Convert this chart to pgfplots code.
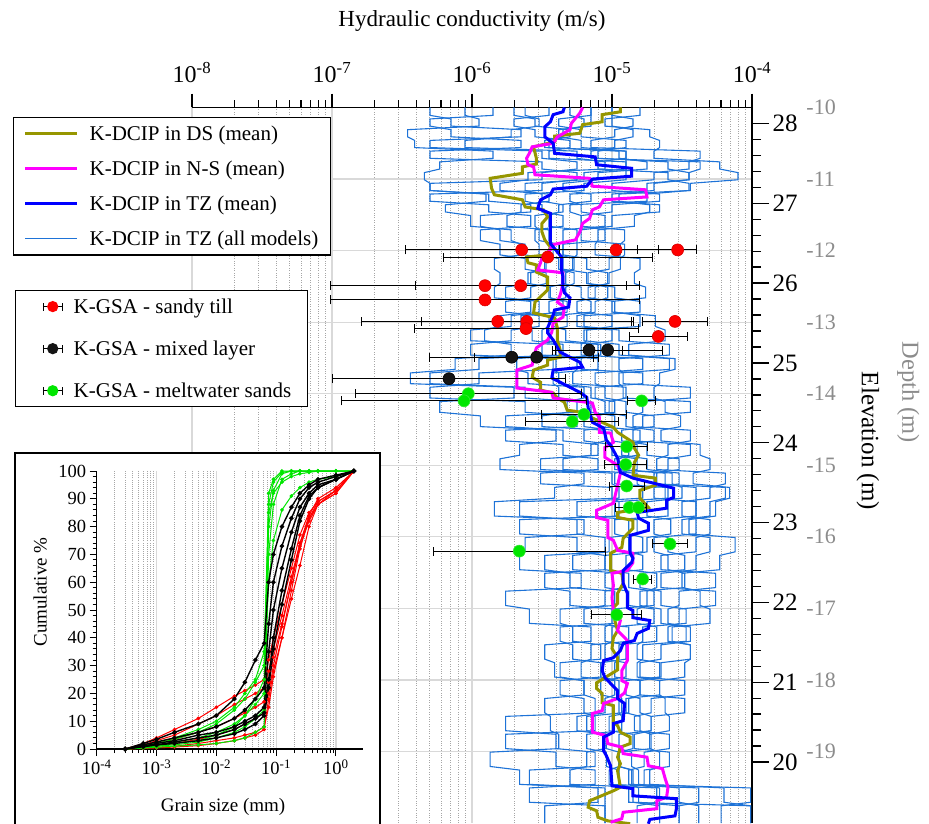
\documentclass[border=0pt]{standalone}
\usepackage{pgfplots}
\pgfplotsset{compat=1.18}
\usepackage{pgfplotstable}
\usepackage{fontspec}
\setmainfont{Liberation Serif}
\newcommand{\fsz}[1]{\fontsize{#1}{#1}\selectfont}
\definecolor{dsolive}{RGB}{150,150,0}
\definecolor{nsmag}{RGB}{255,0,255}
\definecolor{tzblue}{RGB}{0,0,255}
\definecolor{modblue}{RGB}{30,115,215}
\definecolor{gsared}{RGB}{255,0,0}
\definecolor{gsagreen}{RGB}{0,230,0}
\definecolor{gsablack}{RGB}{20,20,20}
\definecolor{depthgray}{RGB}{140,140,140}

% log10 K (m/s) of the TZ models, layer by layer (two rows per layer)
\pgfplotstableread{
d c1 c2 c3 c4 c5 c6 c7 c8 c9 c10 c11 c12
-10.00 -6.05 -5.85 -5.62 -5.45 -5.30 -5.15 -5.00 -4.80 -6.30 -5.70 -5.15 -5.00
-10.11 -6.05 -5.85 -5.62 -5.45 -5.30 -5.15 -5.00 -4.80 -6.30 -5.70 -5.15 -5.00
-10.16 -5.95 -6.30 -5.52 -5.70 -5.20 -5.38 -4.85 -5.05 -6.15 -5.55 -5.15 -5.00
-10.26 -5.95 -6.30 -5.52 -5.70 -5.20 -5.38 -4.85 -5.05 -6.15 -5.55 -5.15 -5.00
-10.31 -6.46 -6.15 -5.72 -5.55 -5.35 -5.22 -4.98 -4.73 -5.65 -5.30 -5.38 -4.85
-10.41 -6.46 -6.15 -5.72 -5.55 -5.35 -5.22 -4.98 -4.73 -5.65 -5.30 -5.38 -4.85
-10.46 -6.41 -5.65 -6.05 -5.30 -5.48 -4.90 -5.15 -4.66 -6.30 -5.45 -5.22 -4.98
-10.56 -6.41 -5.65 -6.05 -5.30 -5.48 -4.90 -5.15 -4.66 -6.30 -5.45 -5.22 -4.98
-10.61 -5.85 -6.30 -5.25 -5.45 -4.95 -5.10 -4.37 -4.70 -5.50 -4.90 -4.90 -5.15
-10.71 -5.85 -6.30 -5.25 -5.45 -4.95 -5.10 -4.37 -4.70 -5.50 -4.90 -4.90 -5.15
-10.76 -6.23 -5.50 -5.05 -4.90 -4.75 -4.60 -4.45 -4.23 -5.25 -4.90 -5.10 -4.37
-10.86 -6.23 -5.50 -5.05 -4.90 -4.75 -4.60 -4.45 -4.23 -5.25 -4.90 -5.10 -4.37
-10.91 -6.34 -5.25 -5.60 -4.90 -5.10 -4.45 -4.70 -4.10 -5.50 -5.20 -4.60 -4.45
-11.01 -6.34 -5.25 -5.60 -4.90 -5.10 -4.45 -4.70 -4.10 -5.50 -5.20 -4.60 -4.45
-11.06 -6.30 -5.50 -5.80 -5.20 -5.35 -4.75 -5.00 -4.44 -6.30 -5.62 -4.45 -4.70
-11.16 -6.30 -5.50 -5.80 -5.20 -5.35 -4.75 -5.00 -4.44 -6.30 -5.62 -4.45 -4.70
-11.21 -5.90 -6.30 -5.45 -5.62 -5.15 -5.30 -4.66 -4.95 -5.88 -5.50 -4.75 -5.00
-11.31 -5.90 -6.30 -5.45 -5.62 -5.15 -5.30 -4.66 -4.95 -5.88 -5.50 -4.75 -5.00
-11.36 -6.19 -5.88 -5.65 -5.50 -5.38 -5.22 -5.00 -4.73 -5.58 -5.35 -5.30 -4.66
-11.46 -6.19 -5.88 -5.65 -5.50 -5.38 -5.22 -5.00 -4.73 -5.58 -5.35 -5.30 -4.66
-11.51 -6.01 -5.58 -5.75 -5.35 -5.45 -5.05 -5.22 -4.84 -5.94 -5.55 -5.22 -5.00
-11.66 -6.01 -5.58 -5.75 -5.35 -5.45 -5.05 -5.22 -4.84 -5.94 -5.55 -5.22 -5.00
-11.71 -5.72 -5.94 -5.45 -5.55 -5.25 -5.35 -4.91 -5.10 -5.80 -5.52 -5.05 -5.22
-11.86 -5.72 -5.94 -5.45 -5.55 -5.25 -5.35 -4.91 -5.10 -5.80 -5.52 -5.05 -5.22
-11.91 -5.65 -5.80 -5.42 -5.52 -5.25 -5.35 -4.94 -5.12 -5.62 -5.38 -5.35 -4.91
-12.06 -5.65 -5.80 -5.42 -5.52 -5.25 -5.35 -4.94 -5.12 -5.62 -5.38 -5.35 -4.91
-12.11 -5.84 -5.62 -5.48 -5.38 -5.28 -5.18 -5.02 -4.80 -5.47 -5.27 -5.35 -4.94
-12.26 -5.84 -5.62 -5.48 -5.38 -5.28 -5.18 -5.02 -4.80 -5.47 -5.27 -5.35 -4.94
-12.31 -5.80 -5.47 -5.60 -5.27 -5.36 -5.03 -5.17 -4.84 -5.58 -5.33 -5.18 -5.02
-12.46 -5.80 -5.47 -5.60 -5.27 -5.36 -5.03 -5.17 -4.84 -5.58 -5.33 -5.18 -5.02
-12.51 -5.84 -5.58 -5.44 -5.33 -5.22 -5.12 -4.98 -4.76 -5.76 -5.45 -5.03 -5.17
-12.66 -5.84 -5.58 -5.44 -5.33 -5.22 -5.12 -4.98 -4.76 -5.76 -5.45 -5.03 -5.17
-12.71 -5.58 -5.76 -5.35 -5.45 -5.15 -5.25 -4.80 -5.00 -5.52 -5.32 -5.12 -4.98
-12.86 -5.58 -5.76 -5.35 -5.45 -5.15 -5.25 -4.80 -5.00 -5.52 -5.32 -5.12 -4.98
-12.91 -5.80 -5.52 -5.65 -5.32 -5.42 -5.00 -5.20 -4.69 -5.72 -5.45 -5.25 -4.80
-13.06 -5.80 -5.52 -5.65 -5.32 -5.42 -5.00 -5.20 -4.69 -5.72 -5.45 -5.25 -4.80
-13.11 -5.91 -5.72 -5.57 -5.45 -5.33 -5.18 -4.95 -4.62 -6.01 -5.50 -5.00 -5.20
-13.26 -5.91 -5.72 -5.57 -5.45 -5.33 -5.18 -4.95 -4.62 -6.01 -5.50 -5.00 -5.20
-13.31 -5.72 -6.01 -5.35 -5.50 -5.08 -5.22 -4.59 -4.88 -5.40 -5.10 -5.18 -4.95
-13.46 -5.72 -6.01 -5.35 -5.50 -5.08 -5.22 -4.59 -4.88 -5.40 -5.10 -5.18 -4.95
-13.51 -6.12 -5.40 -5.68 -5.10 -5.25 -4.78 -4.95 -4.55 -5.95 -5.42 -5.22 -4.59
-13.66 -6.12 -5.40 -5.68 -5.10 -5.25 -4.78 -4.95 -4.55 -5.95 -5.42 -5.22 -4.59
-13.71 -6.44 -5.95 -5.60 -5.42 -5.28 -5.12 -4.92 -4.66 -6.30 -5.38 -4.78 -4.95
-13.86 -6.44 -5.95 -5.60 -5.42 -5.28 -5.12 -4.92 -4.66 -6.30 -5.38 -4.78 -4.95
-13.91 -5.70 -6.30 -5.20 -5.38 -4.90 -5.05 -4.44 -4.70 -5.62 -5.15 -5.12 -4.92
-14.06 -5.70 -6.30 -5.20 -5.38 -4.90 -5.05 -4.44 -4.70 -5.62 -5.15 -5.12 -4.92
-14.11 -6.23 -5.62 -5.32 -5.15 -5.02 -4.90 -4.78 -4.62 -5.25 -4.98 -5.05 -4.44
-14.26 -6.23 -5.62 -5.32 -5.15 -5.02 -4.90 -4.78 -4.62 -5.25 -4.98 -5.05 -4.44
-14.31 -5.94 -5.25 -5.50 -4.98 -5.10 -4.70 -4.85 -4.51 -5.76 -5.20 -4.90 -4.78
-14.46 -5.94 -5.25 -5.50 -4.98 -5.10 -4.70 -4.85 -4.51 -5.76 -5.20 -4.90 -4.78
-14.51 -5.40 -5.76 -5.05 -5.20 -4.80 -4.93 -4.44 -4.65 -5.35 -5.00 -4.70 -4.85
-14.66 -5.40 -5.76 -5.05 -5.20 -4.80 -4.93 -4.44 -4.65 -5.35 -5.00 -4.70 -4.85
-14.71 -5.66 -5.35 -5.15 -5.00 -4.88 -4.75 -4.60 -4.37 -5.10 -4.82 -4.93 -4.44
-14.86 -5.66 -5.35 -5.15 -5.00 -4.88 -4.75 -4.60 -4.37 -5.10 -4.82 -4.93 -4.44
-14.91 -5.80 -5.10 -5.35 -4.82 -4.95 -4.52 -4.68 -4.30 -5.51 -4.98 -4.75 -4.60
-15.06 -5.80 -5.10 -5.35 -4.82 -4.95 -4.52 -4.68 -4.30 -5.51 -4.98 -4.75 -4.60
-15.11 -5.20 -5.51 -4.82 -4.98 -4.57 -4.70 -4.19 -4.42 -5.00 -4.62 -4.52 -4.68
-15.26 -5.20 -5.51 -4.82 -4.98 -4.57 -4.70 -4.19 -4.42 -5.00 -4.62 -4.52 -4.68
-15.31 -5.41 -5.00 -4.78 -4.62 -4.50 -4.40 -4.30 -4.16 -4.95 -4.60 -4.70 -4.19
-15.46 -5.41 -5.00 -4.78 -4.62 -4.50 -4.40 -4.30 -4.16 -4.95 -4.60 -4.70 -4.19
-15.51 -5.84 -4.95 -5.25 -4.60 -4.75 -4.40 -4.50 -4.26 -5.66 -4.98 -4.40 -4.30
-15.71 -5.84 -4.95 -5.25 -4.60 -4.75 -4.40 -4.50 -4.26 -5.66 -4.98 -4.40 -4.30
-15.76 -5.20 -5.66 -4.82 -4.98 -4.58 -4.70 -4.30 -4.45 -5.25 -4.88 -4.40 -4.50
-15.96 -5.20 -5.66 -4.82 -4.98 -4.58 -4.70 -4.30 -4.45 -5.25 -4.88 -4.40 -4.50
-16.01 -5.62 -5.25 -5.02 -4.88 -4.75 -4.60 -4.40 -4.12 -5.05 -4.78 -4.70 -4.30
-16.21 -5.62 -5.25 -5.02 -4.88 -4.75 -4.60 -4.40 -4.12 -5.05 -4.78 -4.70 -4.30
-16.26 -5.66 -5.05 -5.28 -4.78 -4.90 -4.48 -4.65 -4.23 -5.48 -5.05 -4.60 -4.40
-16.46 -5.66 -5.05 -5.28 -4.78 -4.90 -4.48 -4.65 -4.23 -5.48 -5.05 -4.60 -4.40
-16.51 -5.22 -5.48 -4.92 -5.05 -4.68 -4.80 -4.26 -4.50 -5.30 -4.88 -4.48 -4.65
-16.71 -5.22 -5.48 -4.92 -5.05 -4.68 -4.80 -4.26 -4.50 -5.30 -4.88 -4.48 -4.65
-16.76 -5.76 -5.30 -5.05 -4.88 -4.75 -4.65 -4.52 -4.37 -4.98 -4.70 -4.80 -4.26
-16.96 -5.76 -5.30 -5.05 -4.88 -4.75 -4.65 -4.52 -4.37 -4.98 -4.70 -4.80 -4.26
-17.01 -5.59 -4.98 -5.20 -4.70 -4.82 -4.47 -4.60 -4.30 -5.37 -5.00 -4.65 -4.52
-17.21 -5.59 -4.98 -5.20 -4.70 -4.82 -4.47 -4.60 -4.30 -5.37 -5.00 -4.65 -4.52
-17.26 -5.15 -5.37 -4.88 -5.00 -4.68 -4.78 -4.44 -4.57 -5.28 -5.05 -4.47 -4.60
-17.46 -5.15 -5.37 -4.88 -5.00 -4.68 -4.78 -4.44 -4.57 -5.28 -5.05 -4.47 -4.60
-17.51 -5.48 -5.28 -5.15 -5.05 -4.95 -4.82 -4.65 -4.44 -5.08 -4.90 -4.78 -4.44
-17.71 -5.48 -5.28 -5.15 -5.05 -4.95 -4.82 -4.65 -4.44 -5.08 -4.90 -4.78 -4.44
-17.76 -5.41 -5.08 -5.22 -4.90 -4.98 -4.66 -4.80 -4.48 -5.37 -5.08 -4.82 -4.65
-17.96 -5.41 -5.08 -5.22 -4.90 -4.98 -4.66 -4.80 -4.48 -5.37 -5.08 -4.82 -4.65
-18.01 -5.20 -5.37 -4.98 -5.08 -4.80 -4.90 -4.48 -4.66 -5.20 -4.95 -4.66 -4.80
-18.21 -5.20 -5.37 -4.98 -5.08 -4.80 -4.90 -4.48 -4.66 -5.20 -4.95 -4.66 -4.80
-18.26 -5.48 -5.20 -5.05 -4.95 -4.88 -4.80 -4.72 -4.62 -5.12 -4.93 -4.90 -4.48
-18.46 -5.48 -5.20 -5.05 -4.95 -4.88 -4.80 -4.72 -4.62 -5.12 -4.93 -4.90 -4.48
-18.51 -5.44 -5.12 -5.25 -4.93 -5.02 -4.72 -4.84 -4.59 -5.76 -5.18 -4.80 -4.72
-18.71 -5.44 -5.12 -5.25 -4.93 -5.02 -4.72 -4.84 -4.59 -5.76 -5.18 -4.80 -4.72
-18.76 -5.38 -5.76 -5.05 -5.18 -4.85 -4.95 -4.59 -4.73 -5.40 -5.04 -4.72 -4.84
-18.96 -5.38 -5.76 -5.05 -5.18 -4.85 -4.95 -4.59 -4.73 -5.40 -5.04 -4.72 -4.84
-19.01 -5.87 -5.40 -5.18 -5.04 -4.95 -4.86 -4.77 -4.66 -5.12 -4.95 -4.95 -4.59
-19.21 -5.87 -5.40 -5.18 -5.04 -4.95 -4.86 -4.77 -4.66 -5.12 -4.95 -4.95 -4.59
-19.26 -5.66 -5.12 -5.30 -4.95 -5.02 -4.81 -4.88 -4.73 -5.59 -4.85 -4.86 -4.77
-19.46 -5.66 -5.12 -5.30 -4.95 -5.02 -4.81 -4.88 -4.73 -5.59 -4.85 -4.86 -4.77
-19.51 -5.10 -5.59 -4.68 -4.85 -4.38 -4.52 -4.01 -4.20 -5.05 -4.66 -4.81 -4.88
-19.71 -5.10 -5.59 -4.68 -4.85 -4.38 -4.52 -4.01 -4.20 -5.05 -4.66 -4.81 -4.88
-19.76 -5.48 -5.05 -4.82 -4.66 -4.52 -4.38 -4.22 -4.01 -5.05 -4.66 -4.52 -4.01
-20.00 -5.48 -5.05 -4.82 -4.66 -4.52 -4.38 -4.22 -4.01 -5.05 -4.66 -4.52 -4.01
}\models

\pgfplotstableread{
lk d
-4.94 -10.00
-4.94 -10.06
-5.07 -10.10
-5.07 -10.20
-5.21 -10.24
-5.23 -10.36
-5.41 -10.40
-5.41 -10.48
-5.56 -10.55
-5.54 -10.71
-5.54 -10.79
-5.64 -10.83
-5.64 -10.92
-5.87 -10.99
-5.86 -11.13
-5.84 -11.22
-5.64 -11.29
-5.62 -11.39
-5.49 -11.43
-5.46 -11.53
-5.50 -11.62
-5.50 -11.74
-5.48 -11.85
-5.44 -11.95
-5.46 -12.06
-5.61 -12.09
-5.60 -12.17
-5.54 -12.20
-5.54 -12.30
-5.46 -12.37
-5.46 -12.55
-5.55 -12.72
-5.56 -12.87
-5.41 -12.94
-5.39 -13.08
-5.39 -13.25
-5.37 -13.39
-5.37 -13.49
-5.46 -13.53
-5.46 -13.60
-5.56 -13.67
-5.57 -13.77
-5.51 -13.84
-5.51 -13.95
-5.42 -13.99
-5.39 -14.06
-5.34 -14.12
-5.32 -14.23
-5.18 -14.27
-5.14 -14.34
-4.99 -14.47
-4.96 -14.54
-4.85 -14.68
-4.84 -14.76
-4.81 -14.86
-4.84 -14.96
-4.85 -15.14
-4.69 -15.18
-4.69 -15.28
-4.80 -15.35
-4.80 -15.46
-4.74 -15.59
-4.96 -15.66
-4.96 -15.73
-4.85 -15.77
-4.85 -15.88
-4.92 -16.02
-4.93 -16.15
-5.01 -16.23
-5.01 -16.47
-4.93 -16.51
-4.92 -16.65
-4.96 -16.79
-4.96 -16.93
-4.99 -16.99
-4.98 -17.17
-4.96 -17.31
-4.99 -17.41
-5.00 -17.56
-4.96 -17.69
-4.96 -17.86
-5.11 -18.04
-5.11 -18.12
-5.07 -18.19
-5.07 -18.32
-4.99 -18.36
-4.99 -18.59
-4.96 -18.64
-4.94 -18.73
-4.87 -18.80
-4.87 -18.89
-4.94 -18.94
-4.96 -19.08
-4.94 -19.17
-4.96 -19.27
-4.94 -19.50
-4.99 -19.55
-5.16 -19.69
-5.17 -19.78
-5.11 -19.83
-5.10 -19.92
-5.03 -19.97
-4.87 -20.01
}\dsmean

\pgfplotstableread{
lk d
-5.21 -10.00
-5.23 -10.08
-5.29 -10.22
-5.30 -10.31
-5.39 -10.41
-5.42 -10.50
-5.57 -10.55
-5.59 -10.64
-5.61 -10.71
-5.60 -10.80
-5.56 -10.83
-5.55 -10.94
-5.16 -10.99
-5.14 -11.10
-4.76 -11.15
-4.75 -11.25
-5.06 -11.29
-5.09 -11.39
-5.14 -11.43
-5.16 -11.55
-5.21 -11.62
-5.23 -11.74
-5.25 -11.81
-5.26 -11.85
-5.43 -11.92
-5.44 -11.99
-5.50 -12.10
-5.51 -12.17
-5.53 -12.27
-5.35 -12.31
-5.35 -12.44
-5.36 -12.55
-5.37 -12.62
-5.39 -12.72
-5.34 -12.79
-5.35 -12.93
-5.42 -13.01
-5.43 -13.14
-5.46 -13.25
-5.54 -13.36
-5.56 -13.49
-5.57 -13.60
-5.68 -13.67
-5.68 -13.92
-5.43 -13.98
-5.42 -14.06
-5.14 -14.13
-5.12 -14.26
-5.09 -14.33
-5.09 -14.54
-5.01 -14.55
-4.99 -14.68
-5.05 -14.75
-5.05 -14.89
-4.96 -15.00
-4.94 -15.11
-4.96 -15.28
-4.99 -15.53
-5.11 -15.63
-5.11 -15.73
-5.03 -15.77
-5.03 -16.01
-4.99 -16.05
-4.96 -16.19
-4.85 -16.23
-4.85 -16.36
-4.89 -16.47
-5.00 -16.51
-4.99 -16.68
-5.00 -16.85
-4.99 -17.03
-4.94 -17.17
-4.96 -17.31
-4.89 -17.45
-4.89 -17.73
-4.93 -17.87
-4.93 -18.01
-4.89 -18.05
-4.91 -18.18
-4.96 -18.26
-5.06 -18.33
-5.07 -18.43
-5.14 -18.47
-5.14 -18.73
-5.04 -18.78
-5.03 -18.89
-4.93 -18.94
-4.92 -19.03
-4.75 -19.08
-4.74 -19.20
-4.64 -19.24
-4.62 -19.38
-4.60 -19.50
-4.61 -19.64
-4.68 -19.69
-4.68 -19.80
-4.92 -19.85
-4.93 -19.94
-5.01 -19.99
}\nsmean

\pgfplotstableread{
lk d
-5.34 -10.00
-5.35 -10.06
-5.42 -10.10
-5.44 -10.20
-5.48 -10.27
-5.48 -10.41
-5.42 -10.50
-5.41 -10.64
-5.12 -10.69
-5.11 -10.80
-4.86 -10.85
-4.86 -10.96
-5.14 -11.00
-5.18 -11.10
-5.42 -11.14
-5.44 -11.22
-5.51 -11.29
-5.53 -11.41
-5.44 -11.48
-5.44 -11.90
-5.36 -12.09
-5.36 -12.27
-5.35 -12.37
-5.35 -12.52
-5.34 -12.59
-5.30 -12.66
-5.31 -12.79
-5.41 -12.83
-5.42 -12.90
-5.46 -13.08
-5.46 -13.15
-5.42 -13.25
-5.39 -13.35
-5.37 -13.42
-5.23 -13.56
-5.21 -13.63
-5.42 -13.67
-5.43 -13.78
-5.23 -13.98
-5.18 -14.05
-5.17 -14.20
-5.14 -14.40
-5.06 -14.48
-5.04 -14.65
-5.01 -14.72
-4.96 -14.90
-4.94 -15.10
-4.85 -15.18
-4.56 -15.32
-4.56 -15.45
-4.61 -15.49
-4.61 -15.60
-4.82 -15.66
-4.81 -15.74
-4.74 -15.81
-4.74 -15.91
-4.87 -15.98
-4.87 -16.23
-4.85 -16.30
-4.86 -16.36
-4.92 -16.47
-4.92 -16.65
-4.89 -16.79
-4.89 -16.99
-4.85 -17.03
-4.85 -17.13
-4.73 -17.17
-4.74 -17.28
-4.82 -17.35
-4.84 -17.45
-4.92 -17.49
-4.94 -17.59
-4.99 -17.69
-5.06 -17.73
-5.07 -17.87
-5.05 -17.97
-4.96 -18.15
-4.96 -18.26
-4.91 -18.33
-4.92 -18.57
-4.99 -18.61
-4.99 -18.73
-5.06 -18.80
-5.06 -18.99
-5.04 -19.06
-5.01 -19.20
-5.00 -19.48
-4.85 -19.52
-4.85 -19.62
-4.54 -19.66
-4.54 -19.80
-4.55 -19.90
-4.73 -19.95
-4.74 -20.01
}\tzmean

% GSA estimates: log10 K, depth, half-width of error bar in decades
\pgfplotstableread{
lk d h
-5.645 -11.99 0.829
-4.971 -11.99 0.407
-4.531 -11.99 0.136
-5.459 -12.09 0.746
-5.907 -12.49 1.107
-5.652 -12.49 0.754
-5.907 -12.69 1.107
-5.816 -12.99 0.971
-5.609 -12.99 0.750
-4.550 -12.99 0.229
-5.614 -13.09 0.800
-4.669 -13.20 0.207
}\redpts
\pgfplotstableread{
lk d h
-5.164 -13.39 0.239
-5.031 -13.39 0.393
-5.716 -13.49 0.584
-5.538 -13.49 0.443
-6.164 -13.79 0.832
}\blackpts
\pgfplotstableread{
lk d h
-6.026 -14.00 0.807
-6.057 -14.10 0.876
-4.788 -14.10 0.100
-5.200 -14.29 0.304
-5.284 -14.39 0.334
-4.895 -14.74 0.151
-4.902 -14.99 0.150
-4.895 -15.29 0.125
-4.876 -15.59 0.100
-4.812 -15.59 0.057
-4.586 -16.10 0.127
-5.662 -16.20 0.616
-4.781 -16.59 0.063
-4.966 -17.09 0.179
}\greenpts

% grain size curves (cumulative %)
\pgfplotstableread{
s r1 r2 r3 r4 r5 r6 b1 b2 b3 b4 b5 g1 g2 g3 g4 g5 g6
0.0003 0 0 0 0 0 0 0 0 0 0 0 0 0 0 0 0 0
0.0006 2 1.5 1 0.5 0.3 0.2 2 1.5 1 1 0.8 1 0.8 0.5 0.3 0.5 1.2
0.001 4 3 2 1 0.6 0.4 3.5 2.5 2 1.5 1.5 2 1.5 1 0.6 1 2.5
0.002 7 5 3.5 2 1 0.7 6 4 3 2.5 2 3.5 2.5 1.5 1 2 4
0.005 11 9 6 3.5 2 1.2 9 6 5 4 3 6 4 2.5 1.5 3 7
0.01 15 12 8 5 3 2 12 8 6 5 4 9 6 4 2 5 10
0.02 19 16 11 7 4 3 18 11 8 7 5.5 14 9 6 3 8 15
0.03 21 18 13 9 5 4 24 14 10 9 7 18 12 8 4 12 20
0.045 23 20 15 11 6 5 32 18 12 11 9 24 16 11 6 18 25
0.063 25 22 17 13 8 7 38 22 15 13 12 30 20 14 8 25 35
0.075 32 28 24 20 15 18 60 45 35 25 22 92 88 80 70 60 85
0.09 40 36 33 30 26 28 70 60 50 40 36 97 96 93 88 75 92
0.125 52 48 45 44 40 40 80 73 65 57 52 100 99.5 99 97 86 96
0.18 65 62 60 60 57 54 87 83 78 72 68 100 100 100 99 91 98
0.25 77 74 73 74 72 66 92 90 87 84 82 100 100 100 100 94 99
0.355 85 83 82 84 83 80 95 94 92 91 90 100 100 100 100 96 99.5
0.5 89 88 88 90 89 88 97 96 95 94 94 100 100 100 100 97 100
1 93 92 93 94 93 92 98.5 98 97 97 97 100 100 100 100 98 100
2 100 100 100 100 100 100 100 100 100 100 100 100 100 100 100 100 100
}\gsd

\pgfplotsset{
  gsabar/.style={only marks, mark=none, forget plot,
    error bars/.cd, x dir=both, x explicit,
    error bar style={black, line width=1pt},
    error mark options={black, line width=1pt, mark size=4.5pt, rotate=90}},
  modline/.style={modblue, line width=1.1pt, forget plot},
}

\begin{document}
\begin{tikzpicture}[x=1pt,y=1pt]
% ---------------- main axis (depth) ----------------
\begin{axis}[
  at={(192pt,0pt)}, anchor=south west,
  scale only axis, width=560pt, height=715.5pt,
  xmode=log, xmin=1e-8, xmax=1e-4, ymin=-20, ymax=-10,
  axis x line*=top, axis y line*=right,
  axis line style={line width=1.3pt, black},
  tick align=outside,
  major tick length=14pt, minor tick length=7pt,
  every tick/.style={black, line width=1.2pt},
  xtick={1e-8,1e-7,1e-6,1e-5,1e-4},
  xticklabels={10\textsuperscript{-8},10\textsuperscript{-7},10\textsuperscript{-6},10\textsuperscript{-5},10\textsuperscript{-4}},
  xticklabel style={font=\fsz{24}, yshift=7pt},
  ytick={-19,-18,-17,-16,-15,-14,-13,-12,-11,-10},
  yticklabels={-19,-18,-17,-16,-15,-14,-13,-12,-11,-10},
  ytick style={draw=none},
  yticklabel style={font=\fsz{22}, text=depthgray, anchor=west, xshift=37pt},
  grid=both,
  major grid style={line width=1.2pt, black!15},
  minor grid style={line width=0.8pt, black!35, dash pattern=on 0.8pt off 1.6pt},
  xlabel={Hydraulic conductivity (m/s)},
  xlabel style={at={(axis description cs:0.5,1)}, anchor=center, yshift=86.5pt, font=\fsz{23}},
  ylabel={Depth (m)},
  ylabel style={at={(axis description cs:1.279,0.602)}, anchor=center, rotate=180, font=\fsz{24.5}, text=depthgray},
  legend style={at={(axis description cs:-0.3196,0.9867)}, anchor=north west,
    draw=black, line width=1.2pt, fill=white, font=\fsz{21},
    inner xsep=10pt, inner ysep=6pt, row sep=15pt,
    /tikz/every odd column/.append style={column sep=9pt}},
  legend cell align=left,
  legend image code/.code={\draw[#1] (0pt,0pt) -- (52pt,0pt);},
]
\addplot[modline] table[x expr=10^(\thisrow{c1}), y=d] {\models};
\addplot[modline] table[x expr=10^(\thisrow{c2}), y=d] {\models};
\addplot[modline] table[x expr=10^(\thisrow{c3}), y=d] {\models};
\addplot[modline] table[x expr=10^(\thisrow{c4}), y=d] {\models};
\addplot[modline] table[x expr=10^(\thisrow{c5}), y=d] {\models};
\addplot[modline] table[x expr=10^(\thisrow{c6}), y=d] {\models};
\addplot[modline] table[x expr=10^(\thisrow{c7}), y=d] {\models};
\addplot[modline] table[x expr=10^(\thisrow{c8}), y=d] {\models};
\addplot[modline] table[x expr=10^(\thisrow{c9}), y=d] {\models};
\addplot[modline] table[x expr=10^(\thisrow{c10}), y=d] {\models};
\addplot[modline] table[x expr=10^(\thisrow{c11}), y=d] {\models};
\addplot[modline] table[x expr=10^(\thisrow{c12}), y=d] {\models};
\addplot[dsolive, line width=3pt, forget plot] table[x expr=10^(\thisrow{lk}), y=d] {\dsmean};
\addplot[nsmag, line width=3pt, forget plot] table[x expr=10^(\thisrow{lk}), y=d] {\nsmean};
\addplot[tzblue, line width=3pt, forget plot] table[x expr=10^(\thisrow{lk}), y=d] {\tzmean};
% error bars
\addplot[gsabar] table[x expr=10^(\thisrow{lk}), y=d,
  x error plus expr=10^(\thisrow{lk}+\thisrow{h})-10^(\thisrow{lk}),
  x error minus expr=10^(\thisrow{lk})-10^(\thisrow{lk}-\thisrow{h})] {\redpts};
\addplot[gsabar] table[x expr=10^(\thisrow{lk}), y=d,
  x error plus expr=10^(\thisrow{lk}+\thisrow{h})-10^(\thisrow{lk}),
  x error minus expr=10^(\thisrow{lk})-10^(\thisrow{lk}-\thisrow{h})] {\blackpts};
\addplot[gsabar] table[x expr=10^(\thisrow{lk}), y=d,
  x error plus expr=10^(\thisrow{lk}+\thisrow{h})-10^(\thisrow{lk}),
  x error minus expr=10^(\thisrow{lk})-10^(\thisrow{lk}-\thisrow{h})] {\greenpts};
% markers
\addplot[only marks, mark=*, mark size=6pt, mark options={fill=gsared, draw=gsared!85!black, line width=0.6pt}, forget plot]
  table[x expr=10^(\thisrow{lk}), y=d] {\redpts};
\addplot[only marks, mark=*, mark size=6pt, mark options={fill=gsablack, draw=black, line width=0.6pt}, forget plot]
  table[x expr=10^(\thisrow{lk}), y=d] {\blackpts};
\addplot[only marks, mark=*, mark size=6pt, mark options={fill=gsagreen, draw=gsagreen!80!white, line width=0.6pt}, forget plot]
  table[x expr=10^(\thisrow{lk}), y=d] {\greenpts};
\addlegendimage{dsolive, line width=3pt}
\addlegendentry{K-DCIP in DS (mean)}
\addlegendimage{nsmag, line width=3pt}
\addlegendentry{K-DCIP in N-S (mean)}
\addlegendimage{tzblue, line width=3pt}
\addlegendentry{K-DCIP in TZ (mean)}
\addlegendimage{modblue, line width=1.1pt}
\addlegendentry{K-DCIP in TZ (all models)}
\end{axis}

% ---------------- elevation axis ----------------
\begin{axis}[
  at={(192pt,0pt)}, anchor=south west,
  scale only axis, width=560pt, height=715.5pt,
  xmin=0, xmax=1, ymin=19.236, ymax=28.2,
  hide x axis, axis y line*=right,
  axis line style={draw=none},
  tick align=outside,
  major tick length=17pt, minor tick length=9pt,
  every tick/.style={black, line width=1.3pt},
  ytick={20,21,22,23,24,25,26,27,28},
  yticklabels={20,21,22,23,24,25,26,27,28},
  minor y tick num=4,
  yticklabel style={font=\fsz{25}},
  ylabel={Elevation (m)},
  ylabel style={at={(axis description cs:1.207,0.534)}, anchor=center, rotate=180, font=\fsz{25}},
  legend style={at={(axis description cs:-0.316,0.745)}, anchor=north west,
    draw=black, line width=1.2pt, fill=white, font=\fsz{21},
    inner xsep=14pt, inner ysep=6pt, row sep=22pt,
    /tikz/every odd column/.append style={column sep=9pt}},
  legend cell align=left,
  legend image code/.code={
    \path (0pt,0pt);
    \draw[black, line width=1pt] (13pt,0pt) -- (32pt,0pt);
    \draw[black, line width=1pt] (13pt,-4pt) -- (13pt,4pt) (32pt,-4pt) -- (32pt,4pt);
    \fill[#1] (22.5pt,0pt) circle (5pt);},
]
\addlegendimage{gsared}
\addlegendentry{K-GSA - sandy till}
\addlegendimage{gsablack}
\addlegendentry{K-GSA - mixed layer}
\addlegendimage{gsagreen}
\addlegendentry{K-GSA - meltwater sands}
\end{axis}

% ---------------- inset ----------------
\fill[white] (15pt,-5pt) rectangle (380pt,370pt);
\draw[line width=1.3pt] (15pt,-5pt) rectangle (380pt,370pt);
\begin{axis}[
  at={(96.7pt,74pt)}, anchor=south west,
  scale only axis, width=266pt, height=278pt,
  xmode=log, xmin=1e-4, xmax=2.8, ymin=0, ymax=100,
  axis x line*=bottom, axis y line*=left,
  axis line style={line width=1.2pt, black},
  tick align=outside, major tick length=7pt, minor tick length=4pt,
  every tick/.style={black, line width=1pt},
  xtick={1e-4,1e-3,1e-2,1e-1,1},
  xticklabels={10\textsuperscript{-4},10\textsuperscript{-3},10\textsuperscript{-2},10\textsuperscript{-1},10\textsuperscript{0}},
  ytick={0,10,20,30,40,50,60,70,80,90,100},
  yticklabels={0,10,20,30,40,50,60,70,80,90,100},
  minor y tick num=4,
  xmajorgrids, xminorgrids,
  major grid style={line width=1.2pt, black!15},
  minor grid style={line width=0.7pt, black!35, dash pattern=on 0.7pt off 1.4pt},
  ticklabel style={font=\fsz{18.5}},
  xlabel={Grain size (mm)}, ylabel={Cumulative \%},
  xlabel style={at={(axis description cs:0.475,-0.209)}, anchor=center, font=\fsz{19}},
  ylabel style={at={(axis description cs:-0.213,0.565)}, anchor=center, font=\fsz{19}},
  clip=false,
]
\addplot[gsared, line width=1pt, mark=*, mark size=1.3pt] table[x=s, y=r1] {\gsd};
\addplot[gsared, line width=1pt, mark=*, mark size=1.3pt] table[x=s, y=r2] {\gsd};
\addplot[gsared, line width=1pt, mark=*, mark size=1.3pt] table[x=s, y=r3] {\gsd};
\addplot[gsared, line width=1pt, mark=*, mark size=1.3pt] table[x=s, y=r4] {\gsd};
\addplot[gsared, line width=1pt, mark=*, mark size=1.3pt] table[x=s, y=r5] {\gsd};
\addplot[gsared, line width=1pt, mark=*, mark size=1.3pt] table[x=s, y=r6] {\gsd};
\addplot[gsagreen, line width=1pt, mark=*, mark size=1.3pt] table[x=s, y=g1] {\gsd};
\addplot[gsagreen, line width=1pt, mark=*, mark size=1.3pt] table[x=s, y=g2] {\gsd};
\addplot[gsagreen, line width=1pt, mark=*, mark size=1.3pt] table[x=s, y=g3] {\gsd};
\addplot[gsagreen, line width=1pt, mark=*, mark size=1.3pt] table[x=s, y=g4] {\gsd};
\addplot[gsagreen, line width=1pt, mark=*, mark size=1.3pt] table[x=s, y=g5] {\gsd};
\addplot[gsagreen, line width=1pt, mark=*, mark size=1.3pt] table[x=s, y=g6] {\gsd};
\addplot[black, line width=1.4pt, mark=*, mark size=1.5pt] table[x=s, y=b1] {\gsd};
\addplot[black, line width=1.4pt, mark=*, mark size=1.5pt] table[x=s, y=b2] {\gsd};
\addplot[black, line width=1.4pt, mark=*, mark size=1.5pt] table[x=s, y=b3] {\gsd};
\addplot[black, line width=1.4pt, mark=*, mark size=1.5pt] table[x=s, y=b4] {\gsd};
\addplot[black, line width=1.4pt, mark=*, mark size=1.5pt] table[x=s, y=b5] {\gsd};
\end{axis}
\pgfresetboundingbox
\path[use as bounding box] (0pt,0pt) rectangle (929pt,823pt);
\end{tikzpicture}
\end{document}
